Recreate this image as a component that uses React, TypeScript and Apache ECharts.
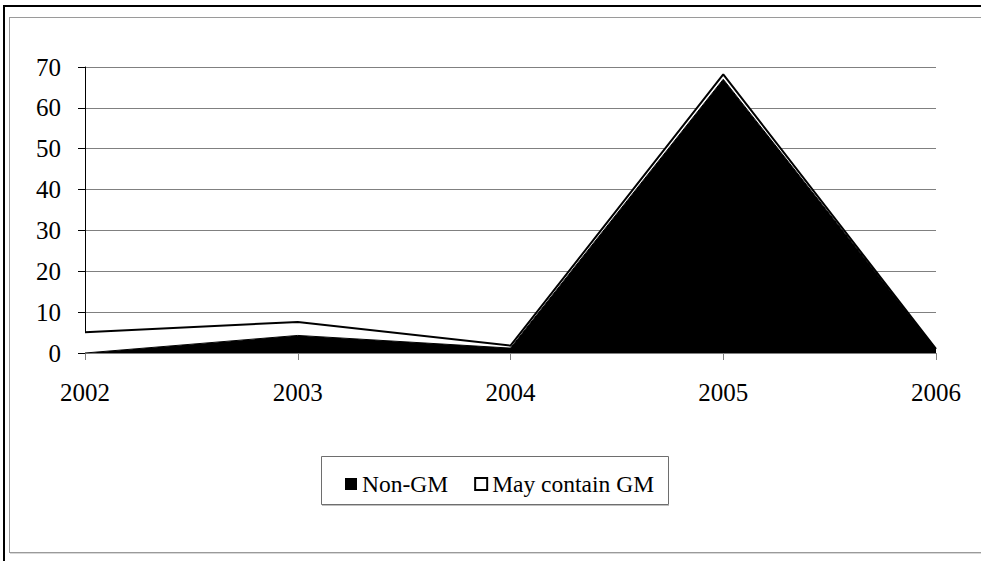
import React, { useEffect, useRef } from "react";
import * as echarts from "echarts";

// Yearly counts, stacked: Non-GM underneath, "May contain GM" on top
const years = ["2002", "2003", "2004", "2005", "2006"];
const nonGM = [0, 4.3, 1.2, 67, 1];
const mayContainGM = [5.1, 3.3, 0.6, 1.2, 0];

const FONT = '"Times New Roman", "Liberation Serif", serif';

export default function App() {
  const ref = useRef<HTMLDivElement>(null);

  useEffect(() => {
    if (!ref.current) return;
    const chart = echarts.init(ref.current, undefined, { renderer: "svg" });
    const line = (x1: number, y1: number, x2: number, y2: number, stroke: string, lineWidth: number) => ({
      type: "line",
      shape: { x1, y1, x2, y2 },
      style: { stroke, lineWidth },
      silent: true,
    });
    chart.setOption({
      animation: false,
      backgroundColor: "#fff",
      textStyle: { fontFamily: FONT },
      grid: { left: 85, right: 45, top: 67, bottom: 208, containLabel: false },
      graphic: [
        // outer frame: thick black top and left edges
        line(3, 6, 1000, 6, "#000", 2),
        line(4, 5, 4, 570, "#000", 2),
        // inner chart-area border
        line(9, 17.5, 1000, 17.5, "#9a9a9a", 1),
        line(9.5, 17, 9.5, 553, "#9a9a9a", 1),
        line(9, 552.5, 1000, 552.5, "#9a9a9a", 1),
        line(10, 553.5, 1000, 553.5, "#d8d8d8", 1),
        // legend box
        {
          type: "rect",
          shape: { x: 321.5, y: 456.5, width: 347, height: 48 },
          style: { fill: "#fff", stroke: "#6e6e6e", lineWidth: 1 },
          z: -1,
          silent: true,
        },
        line(322, 505.5, 669, 505.5, "#c0c0c0", 1),
      ],
      legend: {
        left: 345,
        top: 472,
        padding: 0,
        icon: "rect",
        itemWidth: 12,
        itemHeight: 12,
        itemGap: 26,
        textStyle: { fontFamily: FONT, fontSize: 23.5, color: "#000" },
        data: [
          { name: "Non-GM", itemStyle: { color: "#000" } },
          { name: "May contain GM", itemStyle: { color: "#fff", borderColor: "#000", borderWidth: 2 } },
        ],
      },
      xAxis: {
        type: "category",
        data: years,
        boundaryGap: false,
        axisLine: { lineStyle: { color: "#808080", width: 1 } },
        axisTick: { show: true, length: 7, lineStyle: { color: "#808080" } },
        axisLabel: { fontFamily: FONT, fontSize: 25, color: "#000", margin: 27 },
        splitLine: { show: false },
      },
      yAxis: {
        type: "value",
        min: 0,
        max: 70,
        interval: 10,
        axisLine: { show: true, lineStyle: { color: "#000", width: 1 } },
        axisTick: { show: true, length: 7, lineStyle: { color: "#000" } },
        axisLabel: { fontFamily: FONT, fontSize: 25, color: "#000", margin: 24 },
        splitLine: { show: true, lineStyle: { color: "#808080", width: 1 } },
      },
      series: [
        {
          name: "Non-GM",
          type: "line",
          stack: "total",
          data: nonGM,
          symbol: "none",
          lineStyle: { color: "#000", width: 1 },
          itemStyle: { color: "#000" },
          areaStyle: { color: "#000", opacity: 1 },
        },
        {
          name: "May contain GM",
          type: "line",
          stack: "total",
          data: mayContainGM,
          symbol: "none",
          lineStyle: { color: "#000", width: 2 },
          itemStyle: { color: "#fff", borderColor: "#000", borderWidth: 2 },
          areaStyle: { color: "#fff", opacity: 1 },
        },
      ],
    });
    return () => chart.dispose();
  }, []);

  return (
    <div
      ref={ref}
      style={{ position: "absolute", left: 0, top: 0, width: 981, height: 561 }}
    />
  );
}
